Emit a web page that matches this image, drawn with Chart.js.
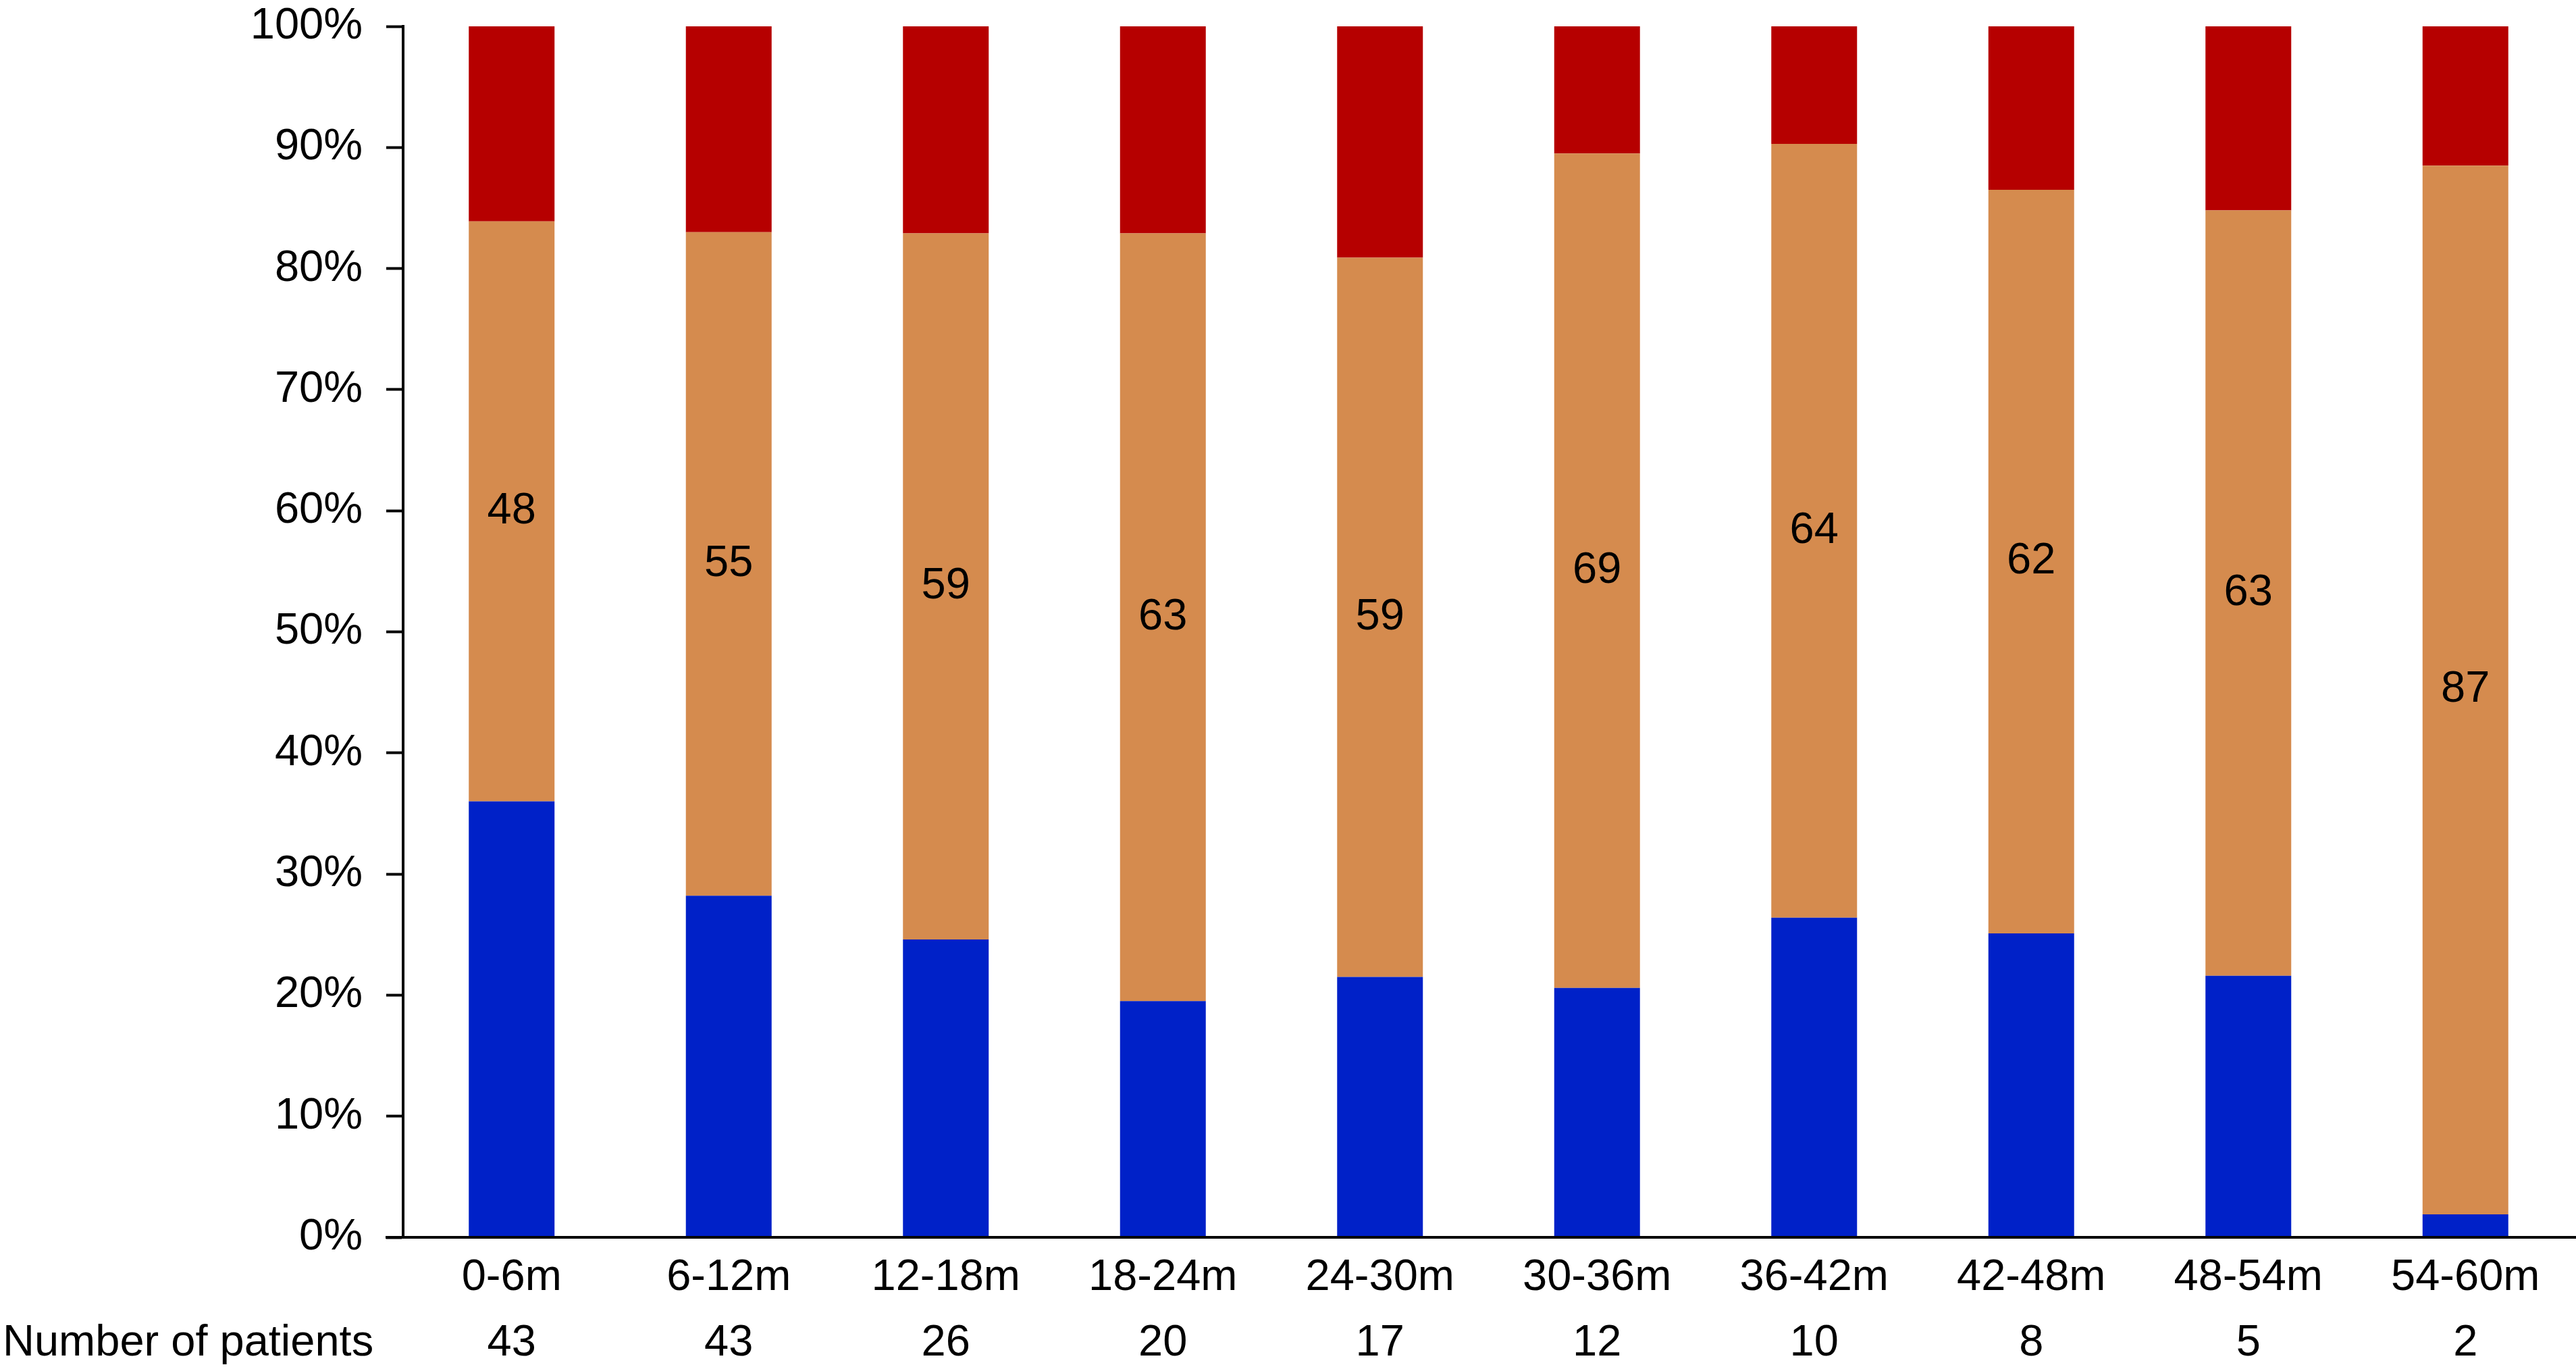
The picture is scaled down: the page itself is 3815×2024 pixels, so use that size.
<!DOCTYPE html>
<html>
<head>
<meta charset="utf-8">
<script src="https://cdn.jsdelivr.net/npm/chart.js@4.4.0/dist/chart.umd.min.js"></script>
<style>
  html, body { margin: 0; padding: 0; background: #fff; }
  #wrap { width: 3815px; height: 2024px; }
</style>
</head>
<body>
<div id="wrap"><canvas id="grafica" width="3815" height="2024"></canvas></div>
<script>
// Dades llegides del gràfic
const periodes = ['0-6m', '6-12m', '12-18m', '18-24m', '24-30m', '30-36m', '36-42m', '42-48m', '48-54m', '54-60m'];
const pacients = [43, 43, 26, 20, 17, 12, 10, 8, 5, 2];
const blau = [36.0, 28.2, 24.6, 19.5, 21.5, 20.6, 26.4, 25.1, 21.6, 1.9];
const taronja = [47.9, 54.8, 58.3, 63.4, 59.4, 68.9, 63.9, 61.4, 63.2, 86.6];
const vermell = [16.1, 17.0, 17.1, 17.1, 19.1, 10.5, 9.7, 13.5, 15.2, 11.5];
const etiquetesTaronja = [48, 55, 59, 63, 59, 69, 64, 62, 63, 87];
const ticksY = [0, 10, 20, 30, 40, 50, 60, 70, 80, 90, 100];

const FONT = '"Liberation Sans", Arial, Helvetica, sans-serif';
const MIDA = 65;

// Etiquetes al centre del segment taronja
const pluginEtiquetes = {
    id: 'etiquetes',
    afterDatasetsDraw(chart) {
        const ctx = chart.ctx;
        const meta = chart.getDatasetMeta(1);
        ctx.save();
        ctx.font = `${MIDA}px ${FONT}`;
        ctx.fillStyle = '#000';
        ctx.textAlign = 'center';
        ctx.textBaseline = 'middle';
        meta.data.forEach((bar, i) => {
            ctx.fillText(String(etiquetesTaronja[i]), bar.x, (bar.y + bar.base) / 2);
        });
        ctx.restore();
    }
};

// Línia de l'eix X i text "Number of patients"
const pluginEixX = {
    id: 'eixX',
    afterDraw(chart) {
        const ctx = chart.ctx;
        const area = chart.chartArea;
        ctx.save();
        ctx.strokeStyle = '#000';
        ctx.lineWidth = 4;
        ctx.beginPath();
        ctx.moveTo(area.left - 26, area.bottom);
        ctx.lineTo(chart.width, area.bottom);
        ctx.stroke();

        ctx.font = `${MIDA}px ${FONT}`;
        ctx.fillStyle = '#000';
        ctx.textAlign = 'left';
        ctx.textBaseline = 'middle';
        ctx.fillText('Number of patients', 4, area.bottom + 157);
        ctx.restore();
    }
};

const ctx = document.getElementById('grafica').getContext('2d');

new Chart(ctx, {
    type: 'bar',
    data: {
        labels: periodes.map((p, i) => [p, String(pacients[i])]),
        datasets: [
            { label: 'Blau', data: blau, backgroundColor: '#0021C8' },
            { label: 'Taronja', data: taronja, backgroundColor: '#D58B4E' },
            { label: 'Vermell', data: vermell, backgroundColor: '#B60000' }
        ]
    },
    options: {
        responsive: false,
        devicePixelRatio: 1,
        animation: false,
        layout: { padding: { top: 0, right: 3, left: 0, bottom: 0 } },
        datasets: {
            bar: { barPercentage: 0.395, categoryPercentage: 1.0, borderWidth: 0 }
        },
        plugins: {
            legend: { display: false },
            tooltip: { enabled: false }
        },
        scales: {
            x: {
                stacked: true,
                grid: { display: false, drawTicks: false },
                border: { display: false },
                ticks: {
                    color: '#000',
                    padding: 11,
                    maxRotation: 0,
                    autoSkip: false,
                    font: { family: FONT, size: MIDA, lineHeight: 1.5 }
                },
                afterFit(scale) { scale.height = 192; }
            },
            y: {
                stacked: true,
                min: 0,
                max: 100,
                afterBuildTicks(scale) { scale.ticks = ticksY.map(v => ({ value: v })); },
                grid: {
                    drawOnChartArea: false,
                    drawTicks: true,
                    tickLength: 25,
                    tickWidth: 4,
                    tickColor: '#000'
                },
                border: { display: true, color: '#000', width: 4 },
                ticks: {
                    color: '#000',
                    padding: 35,
                    font: { family: FONT, size: MIDA },
                    callback: (v) => v + '%'
                },
                afterFit(scale) {
                    scale.width = 597;
                    scale.paddingTop = 39;
                    scale.paddingBottom = 39;
                }
            }
        }
    },
    plugins: [pluginEtiquetes, pluginEixX]
});
</script>
</body>
</html>
